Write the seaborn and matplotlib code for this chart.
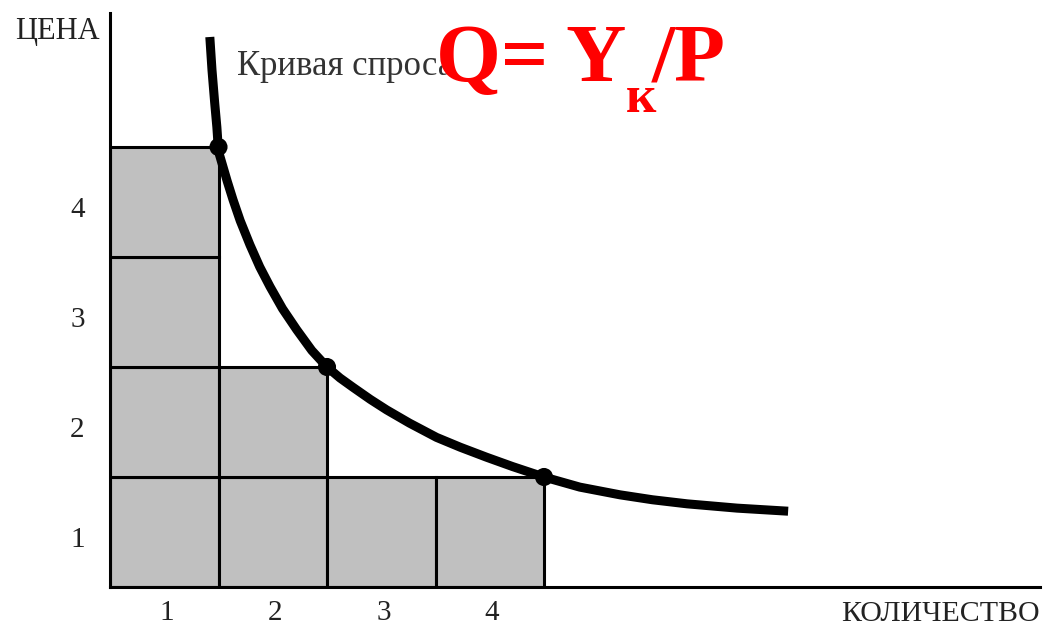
import matplotlib
matplotlib.use("Agg")
import matplotlib.pyplot as plt
import seaborn as sns
import pandas as pd

# --- data ---
# demand curve points (quantity, price)
curve_q = [0.92, 0.94, 0.965, 0.985, 1.00, 1.08, 1.134, 1.20, 1.29, 1.38, 1.475, 1.59, 1.72, 1.86,
           2.00, 2.12, 2.24, 2.40, 2.55, 2.76, 3.01, 3.23, 3.47, 3.71, 4.00, 4.33, 4.70, 5.00,
           5.32, 5.78, 6.25]
curve_p = [5.00, 4.70, 4.40, 4.18, 3.96, 3.69, 3.52, 3.33, 3.11, 2.91, 2.73, 2.53, 2.34, 2.15,
           2.00, 1.90, 1.815, 1.705, 1.61, 1.49, 1.36, 1.27, 1.18, 1.095, 1.00, 0.908, 0.838, 0.793,
           0.756, 0.717, 0.689]
# highlighted points on the curve
pt_q = [1, 2, 4]
pt_p = [4, 2, 1]
# unit cells (lower-left corner: quantity, price)
cell_q = [0, 1, 2, 3, 0, 1, 0, 0]
cell_p = [0, 0, 0, 0, 1, 1, 2, 3]
tick_labels = ["1", "2", "3", "4"]

sns.set_theme(style="white")
plt.rcParams["font.family"] = ["Liberation Serif", "DejaVu Serif"]

W, H = 1046, 628
fig = plt.figure(figsize=(W / 100, H / 100), dpi=100)
ax_l, ax_r, ax_b, ax_t = 110, 1040, 587, 13
ax = fig.add_axes([ax_l / W, (H - ax_b) / H, (ax_r - ax_l) / W, (ax_b - ax_t) / H])
ax.set_xlim(0, (ax_r - ax_l) / 108.5)
ax.set_ylim(0, (ax_b - ax_t) / 110)

# grey unit cells
ax.bar(cell_q, [1] * len(cell_q), bottom=cell_p, width=1, align="edge",
       color="#c0c0c0", edgecolor="black", linewidth=2.2, zorder=2)

# demand curve
df = pd.DataFrame({"q": curve_q, "p": curve_p})
sns.lineplot(data=df, x="q", y="p", sort=False, color="black", linewidth=6.5,
             ax=ax, zorder=4, solid_capstyle="butt", solid_joinstyle="round")
sns.scatterplot(x=pt_q, y=pt_p, color="black", s=170, ax=ax, zorder=5, edgecolor="none")

# spines
for s in ["top", "right"]:
    ax.spines[s].set_visible(False)
for s in ["left", "bottom"]:
    ax.spines[s].set_color("black")
    ax.spines[s].set_linewidth(2.2)
ax.set_xlabel("")
ax.set_ylabel("")
ax.set_xticks([])
ax.set_yticks([])

# tick labels
for i, lab in enumerate(tick_labels):
    ax.text(i + 0.52, -0.12, lab, ha="center", va="top", fontsize=21, color="#222222")
    ax.text(-0.30, i + 0.43, lab, ha="center", va="center", fontsize=21, color="#222222")

# axis titles
fig.text(15 / W, 1 - 31 / H, "ЦЕНА", ha="left", va="center", fontsize=22, color="#222222")
fig.text(1040 / W, 1 - 614 / H, "КОЛИЧЕСТВО", ha="right", va="center", fontsize=21.5, color="#222222")
fig.text(237 / W, 1 - 75 / H, "Кривая спроса", ha="left", va="baseline", fontsize=25, color="#333333")

# red formula
fig.text(436 / W, 1 - 81 / H, "Q= Y", ha="left", va="baseline", fontsize=60, color="red",
         fontweight="bold")
fig.text(626 / W, 1 - 112 / H, "к", ha="left", va="baseline", fontsize=38, color="red",
         fontweight="bold")
fig.text(652 / W, 1 - 81 / H, "/P", ha="left", va="baseline", fontsize=60, color="red",
         fontweight="bold")

fig.savefig("out.png", dpi=100, facecolor="white")
